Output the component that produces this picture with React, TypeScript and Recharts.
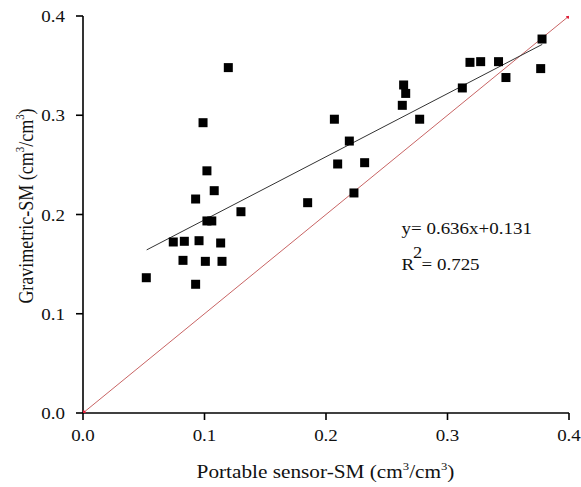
import React from 'react';
import { ScatterChart, Scatter, XAxis, YAxis, ReferenceLine, Customized } from 'recharts';

// Portable sensor soil moisture (x) and gravimetric soil moisture (y), cm3/cm3
const sensorSM = [
  0.1196, 0.0988, 0.102, 0.108, 0.0927, 0.130, 0.102, 0.106, 0.0743, 0.0834, 0.0955,
  0.1133, 0.0823, 0.1007, 0.1144, 0.0521, 0.0927, 0.3778, 0.3185, 0.3273, 0.342, 0.3767,
  0.3481, 0.2639, 0.2656, 0.3122, 0.2628, 0.2771, 0.2069, 0.2192, 0.2096, 0.2318, 0.2230,
  0.1849,
];
const gravimetricSM = [
  0.348, 0.2925, 0.244, 0.224, 0.2156, 0.2028, 0.1935, 0.1935, 0.1723, 0.173, 0.1736,
  0.1713, 0.1538, 0.1528, 0.1528, 0.1363, 0.1297, 0.3768, 0.3533, 0.354, 0.354, 0.347,
  0.338, 0.3305, 0.322, 0.3275, 0.31, 0.296, 0.296, 0.274, 0.2509, 0.2522, 0.2217,
  0.2119,
];
const tickValues = [0, 0.1, 0.2, 0.3, 0.4];
const tickLabels = ['0.0', '0.1', '0.2', '0.3', '0.4'];
const fitSlope = 0.636;
const fitIntercept = 0.131;
const fitRange = [0.0524, 0.378];
const oneToOneRange = [0, 0.4];
const equationText = 'y= 0.636x+0.131';
const r2Text = '= 0.725';
const xAxisTitle = ['Portable sensor-SM (cm', '3', '/cm', '3', ')'];
const yAxisTitle = ['Gravimetric-SM (cm', '3', '/cm', '3', ')'];

const points = sensorSM.map((x, i) => ({ x, y: gravimetricSM[i] }));
const endpoints = oneToOneRange.map((v) => ({ x: v, y: v }));

const FONT = '"Liberation Serif", "Times New Roman", serif';
const INK = '#111';
const SX = 1.15;

const SText = ({ x, y, sx = 1, anchor = 'start', size = 17, rotate = 0, children }: any) => (
  <g transform={`translate(${x},${y}) scale(${sx},1) rotate(${rotate})`}>
    <text x={0} y={0} textAnchor={anchor} fontSize={size} fontFamily={FONT} fill={INK}>
      {children}
    </text>
  </g>
);

const fmt = (v: number) => {
  const i = tickValues.findIndex((t) => Math.abs(t - v) < 1e-9);
  return i >= 0 ? tickLabels[i] : String(v);
};

const XTick = (props: any) => {
  const { x, y, payload } = props;
  return (
    <SText x={x} y={y + 19} sx={SX} anchor="middle" size={16.5}>
      {fmt(payload.value)}
    </SText>
  );
};

const YTick = (props: any) => {
  const { x, y, payload } = props;
  return (
    <SText x={x - 9} y={y + 6} sx={SX} anchor="end" size={16.5}>
      {fmt(payload.value)}
    </SText>
  );
};

const Square = (props: any) => {
  const { cx, cy } = props;
  if (cx == null || cy == null) return null;
  return <rect x={cx - 4.5} y={cy - 4.5} width={9} height={9} fill="#000" />;
};

const RedDot = (props: any) => {
  const { cx, cy } = props;
  if (cx == null || cy == null) return null;
  return <circle cx={cx} cy={cy} r={2.8} fill="#e0203a" />;
};

const titleParts = (parts: string[]) => [
  <tspan key="a">{parts[0]}</tspan>,
  <tspan key="b" fontSize={11} dy={-8}>{parts[1]}</tspan>,
  <tspan key="c" dy={8}>{parts[2]}</tspan>,
  <tspan key="d" fontSize={11} dy={-8}>{parts[3]}</tspan>,
  <tspan key="e" dy={8}>{parts[4]}</tspan>,
];

const Annotations = () => (
  <g>
    <SText x={325.5} y={478} anchor="middle" size={18.5} sx={SX}>
      {titleParts(xAxisTitle)}
    </SText>
    <SText x={33} y={206} anchor="middle" size={18} rotate={-90} sx={SX}>
      {titleParts(yAxisTitle)}
    </SText>
    <SText x={401.5} y={234} sx={SX} size={16.5}>{equationText}</SText>
    <SText x={401.5} y={270} sx={SX} size={16.5}>R</SText>
    <SText x={413} y={258} sx={SX} size={16}>2</SText>
    <SText x={421.5} y={270} sx={SX} size={16.5}>{r2Text}</SText>
  </g>
);

export default function App() {
  return (
    <div style={{ position: 'absolute', left: 0, top: 0, width: 581, height: 487, background: '#fff' }}>
      <ScatterChart
        width={581}
        height={487}
        margin={{ top: 16, right: 12, bottom: 44, left: 43 }}
      >
        <XAxis
          dataKey="x"
          type="number"
          domain={[0, 0.4]}
          ticks={tickValues}
          height={30}
          tickSize={7}
          tickMargin={2}
          axisLine={{ stroke: '#000', strokeWidth: 1.6 }}
          tickLine={{ stroke: '#000', strokeWidth: 1.6 }}
          tick={<XTick />}
          allowDataOverflow
          interval={0}
        />
        <YAxis
          dataKey="y"
          type="number"
          domain={[0, 0.4]}
          ticks={tickValues}
          width={40}
          tickSize={7}
          tickMargin={2}
          axisLine={{ stroke: '#000', strokeWidth: 1.6 }}
          tickLine={{ stroke: '#000', strokeWidth: 1.6 }}
          tick={<YTick />}
          allowDataOverflow
          interval={0}
        />
        <ReferenceLine
          segment={[
            { x: oneToOneRange[0], y: oneToOneRange[0] },
            { x: oneToOneRange[1], y: oneToOneRange[1] },
          ]}
          stroke="#c86464"
          strokeWidth={1}
          ifOverflow="visible"
        />
        <ReferenceLine
          segment={[
            { x: fitRange[0], y: fitSlope * fitRange[0] + fitIntercept },
            { x: fitRange[1], y: fitSlope * fitRange[1] + fitIntercept },
          ]}
          stroke="#333"
          strokeWidth={1}
          ifOverflow="visible"
        />
        <Scatter data={endpoints} shape={<RedDot />} isAnimationActive={false} />
        <Scatter data={points} shape={<Square />} isAnimationActive={false} />
        <Customized component={Annotations} />
      </ScatterChart>
    </div>
  );
}
